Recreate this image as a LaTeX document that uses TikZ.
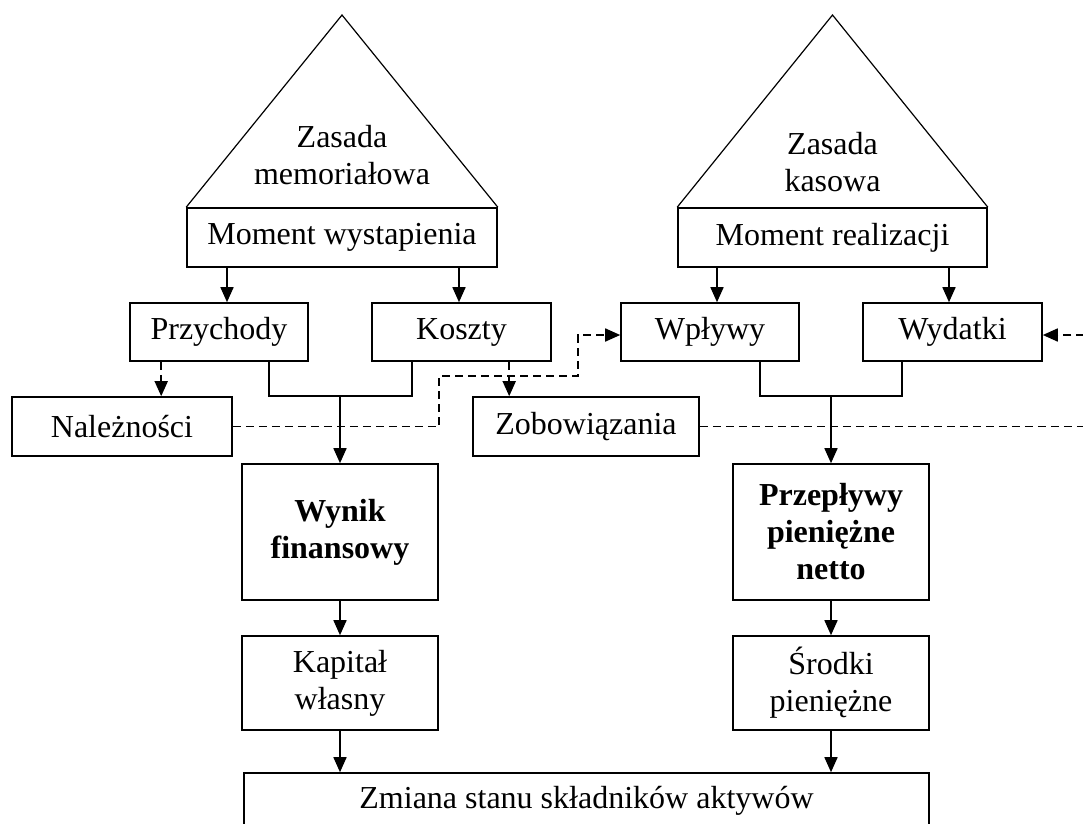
\documentclass[tikz,border=0pt]{standalone}
\usepackage{fontspec}
\setmainfont{Liberation Serif}
\usetikzlibrary{arrows.meta, positioning, calc}

\begin{document}
\begin{tikzpicture}[
    x=1pt, y=-1pt,
    %% Styles  (1 unit = 1 pixel of the page, y grows downwards)
    box/.style={
      rectangle, draw, line width=1.6pt,
      minimum width=178pt, minimum height=58pt,
      inner sep=0pt, text centered, align=center,
      font=\fontsize{32}{37}\selectfont
    },
    wideBox/.style={box, minimum width=310pt, minimum height=59pt},
    sideBox/.style={box, minimum height=59pt},
    tallBox/.style={box, minimum width=196pt, minimum height=136pt,
      font=\fontsize{32}{37}\selectfont\bfseries},
    midBox/.style={box, minimum width=196pt, minimum height=94pt},
    roof/.style={line width=1.2pt},
    lbl/.style={font=\fontsize{32}{37}\selectfont, align=center},
    arrow/.style={-{Triangle[width=13pt,length=15pt]}, line width=1.6pt},
    dashArrow/.style={arrow, line width=1.7pt, dash pattern=on 8pt off 5pt},
    joint/.style={line width=1.6pt}
  ]

  \useasboundingbox (0,0) rectangle (1083,823);
  \clip (0,0) rectangle (1083,823);

  %% -- Row 0: principles (roofs) ----------------------------------
  \node[wideBox] (momWyst) at (342,237.5) {Moment wystapienia};
  \node[wideBox, minimum width=309pt] (momReal) at (832.5,237.5) {Moment realizacji};

  \coordinate (apexMem) at (342,15);
  \coordinate (apexKas) at (832.5,15);
  \draw[roof] (momWyst.north west) -- (apexMem) -- (momWyst.north east);
  \draw[roof] (momReal.north west) -- (apexKas) -- (momReal.north east);

  \node[lbl] (zasMem) at (342,155) {Zasada\\memoriałowa};
  \node[lbl] (zasKas) at (832.5,162) {Zasada\\kasowa};

  %% -- Row 1: flows (y = 332) ----------------------------------
  \node[box] (przych)  at (219,332)   {Przychody};
  \node[box, minimum width=179pt] (koszty)  at (461.5,332) {Koszty};
  \node[box] (wplywy)  at (710,332)   {Wpływy};
  \node[box, minimum width=179pt] (wydatki) at (952.5,332) {Wydatki};

  %% -- Row 2: settlements (y = 426.5) ---------------------------
  \node[sideBox, minimum width=220pt] (naleznosci) at (122,426.5) {Należności};
  \node[sideBox, minimum width=226pt] (zobow)      at (586,426.5) {Zobowiązania};

  %% -- Row 3: results (y = 532) --------------------------------
  \node[tallBox] (wynik)     at (340,532) {Wynik\\finansowy};
  \node[tallBox] (przeplywy) at (831,532) {Przepływy\\pieniężne\\netto};

  %% -- Row 4: balances (y = 683) -------------------------------
  \node[midBox] (kapital) at (340,683) {Kapitał\\własny};
  \node[midBox] (srodki)  at (831,683) {Środki\\pieniężne};

  %% -- Row 5: assets (cut by the page) -------------------------
  \node[box, minimum width=685pt, minimum height=56pt] (zmiana) at (586.5,801)
    {Zmiana stanu składników aktywów};

  %% ============================================================
  %% -- Arrows --------------------------------------------------
  %% ============================================================

  % Moments -> flows
  \draw[arrow] ([xshift=8pt]przych.north |- momWyst.south) -- ([xshift=8pt]przych.north);
  \draw[arrow] ([xshift=-2.5pt]koszty.north |- momWyst.south) -- ([xshift=-2.5pt]koszty.north);
  \draw[arrow] ([xshift=7pt]wplywy.north |- momReal.south) -- ([xshift=7pt]wplywy.north);
  \draw[arrow] ([xshift=-3.5pt]wydatki.north |- momReal.south) -- ([xshift=-3.5pt]wydatki.north);

  % Flows -> settlements (dashed)
  \draw[dashArrow] ([xshift=32pt]przych.south west) -- ([xshift=32pt]przych.south west |- naleznosci.north);
  \draw[dashArrow] ([xshift=37pt]zobow.north west |- koszty.south) -- ([xshift=37pt]zobow.north west);

  % Przychody + Koszty -> Wynik
  \coordinate (joinL) at ([yshift=67pt]wynik.north);
  \draw[joint] ([xshift=-40pt]przych.south east) |- (joinL) -| ([xshift=41pt]koszty.south west);
  \draw[arrow] (joinL) -- (wynik.north);

  % Wplywy + Wydatki -> Przeplywy
  \coordinate (joinR) at ([yshift=67pt]przeplywy.north);
  \draw[joint] ([xshift=-40pt]wplywy.south east) |- (joinR) -| ([xshift=40pt]wydatki.south west);
  \draw[arrow] (joinR) -- (przeplywy.north);

  % Naleznosci -> Wplywy (dashed)
  \draw[dashArrow] (naleznosci.east) -- ++(206pt,0pt) -- ++(0pt,50.5pt)
    -- ++(139pt,0pt) |- ([yshift=-3pt]wplywy.west);

  % Zobowiazania -> Wydatki (dashed, round the right edge)
  \draw[dashArrow] (zobow.east) -- ++(400pt,0pt) |- ([yshift=-3pt]wydatki.east);

  % Results -> balances -> assets
  \draw[arrow] (wynik) -- (kapital);
  \draw[arrow] (przeplywy) -- (srodki);
  \draw[arrow] (kapital.south) -- (kapital.south |- zmiana.north);
  \draw[arrow] (srodki.south) -- (srodki.south |- zmiana.north);

\end{tikzpicture}
\end{document}
